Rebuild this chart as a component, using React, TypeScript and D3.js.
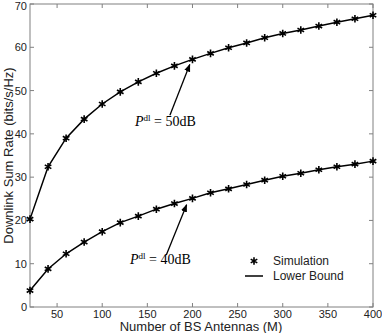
import React from 'react';
import * as d3 from 'd3';

// antenna counts (M)
const antennas = [20, 40, 60, 80, 100, 120, 140, 160, 180, 200, 220, 240, 260, 280, 300, 320, 340, 360, 380, 400];
// downlink sum rate, P_dl = 50 dB
const rate50 = [20.3, 32.4, 39.0, 43.4, 46.9, 49.7, 52.0, 54.0, 55.7, 57.2, 58.6, 59.9, 61.0, 62.2, 63.2, 64.0, 64.9, 65.8, 66.6, 67.4];
// downlink sum rate, P_dl = 40 dB
const rate40 = [3.8, 8.8, 12.3, 15.0, 17.4, 19.5, 21.0, 22.6, 23.9, 25.1, 26.4, 27.3, 28.3, 29.3, 30.2, 30.9, 31.7, 32.4, 33.0, 33.7];
const xTicks = [50, 100, 150, 200, 250, 300, 350, 400];
const yTicks = [0, 10, 20, 30, 40, 50, 60, 70];

const W = 382, H = 333;
const left = 30, right = 373, top = 4, bottom = 307;

export default function App() {
  const x = d3.scaleLinear().domain([20, 400]).range([left, right]);
  const y = d3.scaleLinear().domain([0, 70]).range([bottom, top]);
  const line = d3.line<number>().x((d, i) => x(antennas[i])).y(d => y(d));
  const star = d3.symbol().type(d3.symbolAsterisk).size(40)()!;
  const axisCol = '#808080';
  const sans = 'Liberation Sans, Arial, sans-serif';
  const serif = 'Liberation Serif, serif';

  const series = [rate50, rate40];

  return (
    <svg width={W} height={H} style={{ position: 'absolute', left: 0, top: 0, background: '#fff' }}>
      <rect x={left} y={top} width={right - left} height={bottom - top} fill="none" stroke={axisCol} strokeWidth={1} />
      {xTicks.map(t => (
        <g key={'x' + t}>
          <line x1={x(t)} x2={x(t)} y1={bottom} y2={bottom - 4} stroke={axisCol} />
          <line x1={x(t)} x2={x(t)} y1={top} y2={top + 4} stroke={axisCol} />
          <text x={x(t)} y={318} fontSize={11} fontFamily={sans} textAnchor="middle" fill="#222">{t}</text>
        </g>
      ))}
      {yTicks.map(t => (
        <g key={'y' + t}>
          <line x1={left} x2={left + 4} y1={y(t)} y2={y(t)} stroke={axisCol} />
          <line x1={right} x2={right - 4} y1={y(t)} y2={y(t)} stroke={axisCol} />
          <text x={27} y={Math.max(y(t) + 4, 10)} fontSize={11} fontFamily={sans} textAnchor="end" fill="#222">{t}</text>
        </g>
      ))}
      <text x={201} y={331} fontSize={13} fontFamily={sans} textAnchor="middle" fill="#222">Number of BS Antennas (M)</text>
      <text transform={`translate(13,${(top + bottom) / 2}) rotate(-90)`} fontSize={13} fontFamily={sans} textAnchor="middle" fill="#222">Downlink Sum Rate (bits/s/Hz)</text>

      {series.map((s, k) => (
        <g key={'s' + k}>
          <path d={line(s)!} fill="none" stroke="#000" strokeWidth={1.5} />
          {s.map((v, i) => (
            <path key={i} d={star} transform={`translate(${x(antennas[i])},${y(v)})`} fill="none" stroke="#000" strokeWidth={1.6} />
          ))}
        </g>
      ))}

      <defs>
        <marker id="ah" viewBox="0 0 10 10" refX="9" refY="5" markerWidth="6" markerHeight="6" orient="auto">
          <path d="M0,1 L10,5 L0,9 z" fill="#000" />
        </marker>
      </defs>
      <line x1={x(175)} y1={y(44.3)} x2={x(197)} y2={y(56)} stroke="#000" strokeWidth={1.3} markerEnd="url(#ah)" />
      <text x={135} y={126} fontSize={14} fontFamily={serif} fill="#000">
        <tspan fontStyle="italic">P</tspan>
        <tspan dy={-5} fontSize={9}>dl</tspan>
        <tspan dy={5}> = 50dB</tspan>
      </text>
      <line x1={x(171)} y1={y(12)} x2={x(193.5)} y2={y(23.6)} stroke="#000" strokeWidth={1.3} markerEnd="url(#ah)" />
      <text x={130} y={264} fontSize={14} fontFamily={serif} fill="#000">
        <tspan fontStyle="italic">P</tspan>
        <tspan dy={-5} fontSize={9}>dl</tspan>
        <tspan dy={5}> = 40dB</tspan>
      </text>

      <path d={star} transform="translate(254,261)" fill="none" stroke="#000" strokeWidth={1.6} />
      <text x={273} y={265} fontSize={12} fontFamily={sans} fill="#222">Simulation</text>
      <line x1={245} x2={263} y1={276} y2={276} stroke="#000" strokeWidth={1.5} />
      <text x={273} y={280} fontSize={12} fontFamily={sans} fill="#222">Lower Bound</text>
    </svg>
  );
}
